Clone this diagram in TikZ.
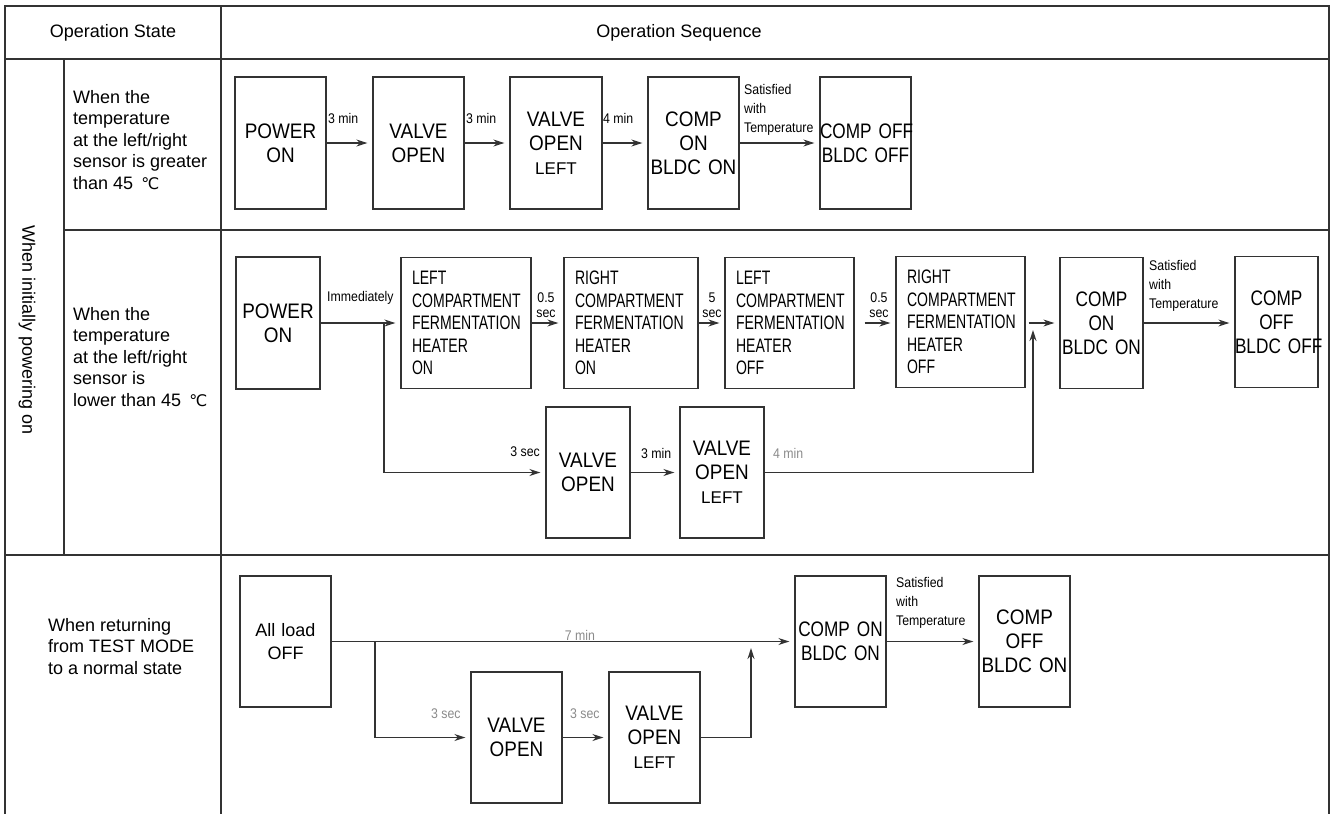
\documentclass[tikz,border=0pt]{standalone}
\usepackage{fontspec}
\setmainfont{Liberation Sans}
\newfontfamily\regfont{Liberation Sans}
\newfontfamily\ltfont[FakeStretch=0.9]{Liberation Sans}
\newfontfamily\ltnfont[FakeStretch=0.82]{Liberation Sans}
\newfontfamily\cndfont[FakeStretch=0.72]{Liberation Sans}
\newfontfamily\labfont[FakeStretch=0.88]{Liberation Sans}
\newfontfamily\djvfont{DejaVu Sans}
\usetikzlibrary{arrows.meta}
\definecolor{linec}{HTML}{333333}
\definecolor{grayt}{HTML}{8A8A8A}
\newcommand{\degc}{{\djvfont\fontsize{16}{16}\selectfont ℃}}
\newcommand{\lft}{{\regfont\fontsize{17}{24}\selectfont LEFT}}
\tikzset{
  tline/.style={draw=linec, line width=1.4pt},
  bx/.style={draw=linec, line width=1.3pt, inner sep=0pt, align=center, minimum height=132pt, font=\ltfont\fontsize{21}{24}\selectfont},
  narrowtext/.style={font=\ltnfont\fontsize{21}{24}\selectfont},
  heat/.style={draw=linec, line width=1.3pt, inner xsep=11pt, inner ysep=0pt, minimum height=131pt, align=left, font=\cndfont\fontsize{19.5}{22.4}\selectfont},
  lbl/.style={font=\labfont\fontsize{14}{16}\selectfont, inner sep=0pt, text=black},
  glbl/.style={font=\labfont\fontsize{14}{16}\selectfont, inner sep=0pt, text=grayt},
  cell/.style={font=\fontsize{18}{21.5}\selectfont, align=left, inner sep=0pt},
  tip/.style={-{Stealth[length=11pt,width=7pt]}},
  arr/.style={draw=linec, line width=1.3pt, tip, shorten >=5pt},
  conn/.style={draw=linec, line width=1.3pt},
}
\begin{document}
\begin{tikzpicture}[x=1pt,y=-1pt]
\useasboundingbox (0,0) rectangle (1331,814);
% ---------- table ----------
\draw[tline] (5,814) -- (5,6) -- (1329,6) -- (1329,814);
\draw[tline] (5,59) -- (1329,59);
\draw[tline] (221,6) -- (221,814);
\draw[tline] (64,59) -- (64,555);
\draw[tline] (64,230) -- (1329,230);
\draw[tline] (5,555) -- (1329,555);
\node[cell] (hstate) at (113,32.5) {Operation State};
\node[cell] (hseq) at (679,32.5) {Operation Sequence};
\node[cell, rotate=-90] (vinit) at (27,330) {When initially powering on};
\node[cell, anchor=west] (c1) at (73,140) {When the\\temperature\\at the left/right\\sensor is greater\\than 45 \,\degc};
\node[cell, anchor=west] (c2) at (73,357) {When the\\temperature\\at the left/right\\sensor is\\lower than 45 \,\degc};
\node[cell, anchor=west] (c3) at (48,646.5) {When returning\\from TEST MODE\\to a normal state};
% ---------- row 1 ----------
\node[bx, text width=91pt] (r1p) at (280.5,143) {POWER\\ON};
\node[bx, text width=91pt] (r1v) at (418.5,143) {VALVE\\OPEN};
\node[bx, text width=92pt] (r1l) at (556,143) {VALVE\\OPEN\\\lft};
\node[bx, text width=91pt] (r1c) at (693.5,143) {COMP\\ON\\BLDC~ON};
\node[bx, narrowtext, text width=91pt] (r1o) at (865.5,143) {COMP~OFF\\BLDC~OFF};
\draw[arr] (r1p) -- (r1v);
\draw[arr] (r1v) -- (r1l);
\draw[arr] (r1l) -- (r1c);
\draw[arr] (r1c) -- (r1o);
\node[lbl, anchor=west] (l11) at (328,118) {3 min};
\node[lbl, anchor=west] (l12) at (466,118) {3 min};
\node[lbl, anchor=west] (l13) at (603,118) {4 min};
\node[lbl, anchor=west, align=left, font=\labfont\fontsize{14}{19}\selectfont] (l14) at (744,110) {Satisfied\\with\\Temperature};
% ---------- row 2 ----------
\node[bx, text width=84pt] (r2p) at (278,323) {POWER\\ON};
\node[heat, text width=108pt] (r2h1) at (466,323) {LEFT\\COMPARTMENT\\FERMENTATION\\HEATER\\ON};
\node[heat, text width=112pt] (r2h2) at (631,323) {RIGHT\\COMPARTMENT\\FERMENTATION\\HEATER\\ON};
\node[heat, text width=107pt] (r2h3) at (789.5,323) {LEFT\\COMPARTMENT\\FERMENTATION\\HEATER\\OFF};
\node[heat, text width=107pt] (r2h4) at (960.5,322) {RIGHT\\COMPARTMENT\\FERMENTATION\\HEATER\\OFF};
\node[bx, narrowtext, text width=83pt, minimum height=131pt] (r2c) at (1101.5,323) {COMP\\ON\\BLDC~ON};
\node[bx, narrowtext, text width=83pt, minimum height=131pt] (r2o) at (1276.5,322) {COMP\\OFF\\BLDC~OFF};
\node[bx, text width=84pt, minimum height=131pt] (r2v) at (588,472.5) {VALVE\\OPEN};
\node[bx, text width=84pt, minimum height=131pt] (r2l) at (722,472.5) {VALVE\\OPEN\\\lft};
\coordinate (b2) at (384,323);
\coordinate (m2) at (1033,472.5);
\coordinate (m2t) at (1033,330);
\draw[arr] (r2p.east) -- (r2h1.west |- r2p.east);
\draw[arr] (b2) |- (r2v.west);
\draw[arr] (r2h1.east |- b2) -- (r2h2.west |- b2);
\draw[arr] (r2h2.east |- b2) -- (r2h3.west |- b2);
\draw[arr, shorten <=10pt] (r2h3.east |- b2) -- (r2h4.west |- b2);
\draw[arr, shorten <=3pt] (r2h4.east |- b2) -- (r2c.west |- b2);
\draw[arr] (r2c.east |- b2) -- (r2o.west |- b2);
\draw[arr] (r2v) -- (r2l);
\draw[conn] (r2l.east) -- (m2);
\draw[conn, tip] (m2) -- (m2t);
\node[lbl, anchor=west] (l21) at (327,298) {Immediately};
\node[lbl, align=center, font=\labfont\fontsize{14}{15}\selectfont] (l22) at (546,305) {0.5\\sec};
\node[lbl, align=center, font=\labfont\fontsize{14}{15}\selectfont] (l23) at (712,305) {5\\sec};
\node[lbl, align=center, font=\labfont\fontsize{14}{15}\selectfont] (l24) at (879,305) {0.5\\sec};
\node[lbl, anchor=west, align=left, font=\labfont\fontsize{14}{19}\selectfont] (l25) at (1149,286) {Satisfied\\with\\Temperature};
\node[lbl, anchor=east] (l26) at (540,452) {3 sec};
\node[lbl, anchor=west] (l27) at (641,453) {3 min};
\node[glbl, anchor=west] (l28) at (773,453) {4 min};
% ---------- row 3 ----------
\node[bx, text width=91pt, minimum height=131pt, font=\regfont\fontsize{18}{23}\selectfont] (r3a) at (285.5,641.5) {All load\\OFF};
\node[bx, narrowtext, text width=91pt, minimum height=131pt] (r3c) at (840.5,641.5) {COMP~ON\\BLDC~ON};
\node[bx, text width=91pt, minimum height=131pt] (r3o) at (1024.5,641.5) {COMP\\OFF\\BLDC~ON};
\node[bx, text width=91pt, minimum height=131pt] (r3v) at (516.5,737.5) {VALVE\\OPEN};
\node[bx, text width=91pt, minimum height=131pt] (r3l) at (654.5,737.5) {VALVE\\OPEN\\\lft};
\coordinate (b3) at (375,641.5);
\coordinate (m3) at (751,737.5);
\coordinate (m3t) at (751,648);
\draw[arr] (r3a) -- (r3c);
\draw[arr] (b3) |- (r3v.west);
\draw[arr] (r3v) -- (r3l);
\draw[arr] (r3c) -- (r3o);
\draw[conn] (r3l.east) -- (m3);
\draw[conn, tip] (m3) -- (m3t);
\node[glbl] (l31) at (580,635) {7 min};
\node[glbl, anchor=west] (l32) at (431,714) {3 sec};
\node[glbl, anchor=west] (l33) at (570,714) {3 sec};
\node[lbl, anchor=west, align=left, font=\labfont\fontsize{14}{19}\selectfont] (l34) at (896,603) {Satisfied\\with\\Temperature};
\end{tikzpicture}
\end{document}
